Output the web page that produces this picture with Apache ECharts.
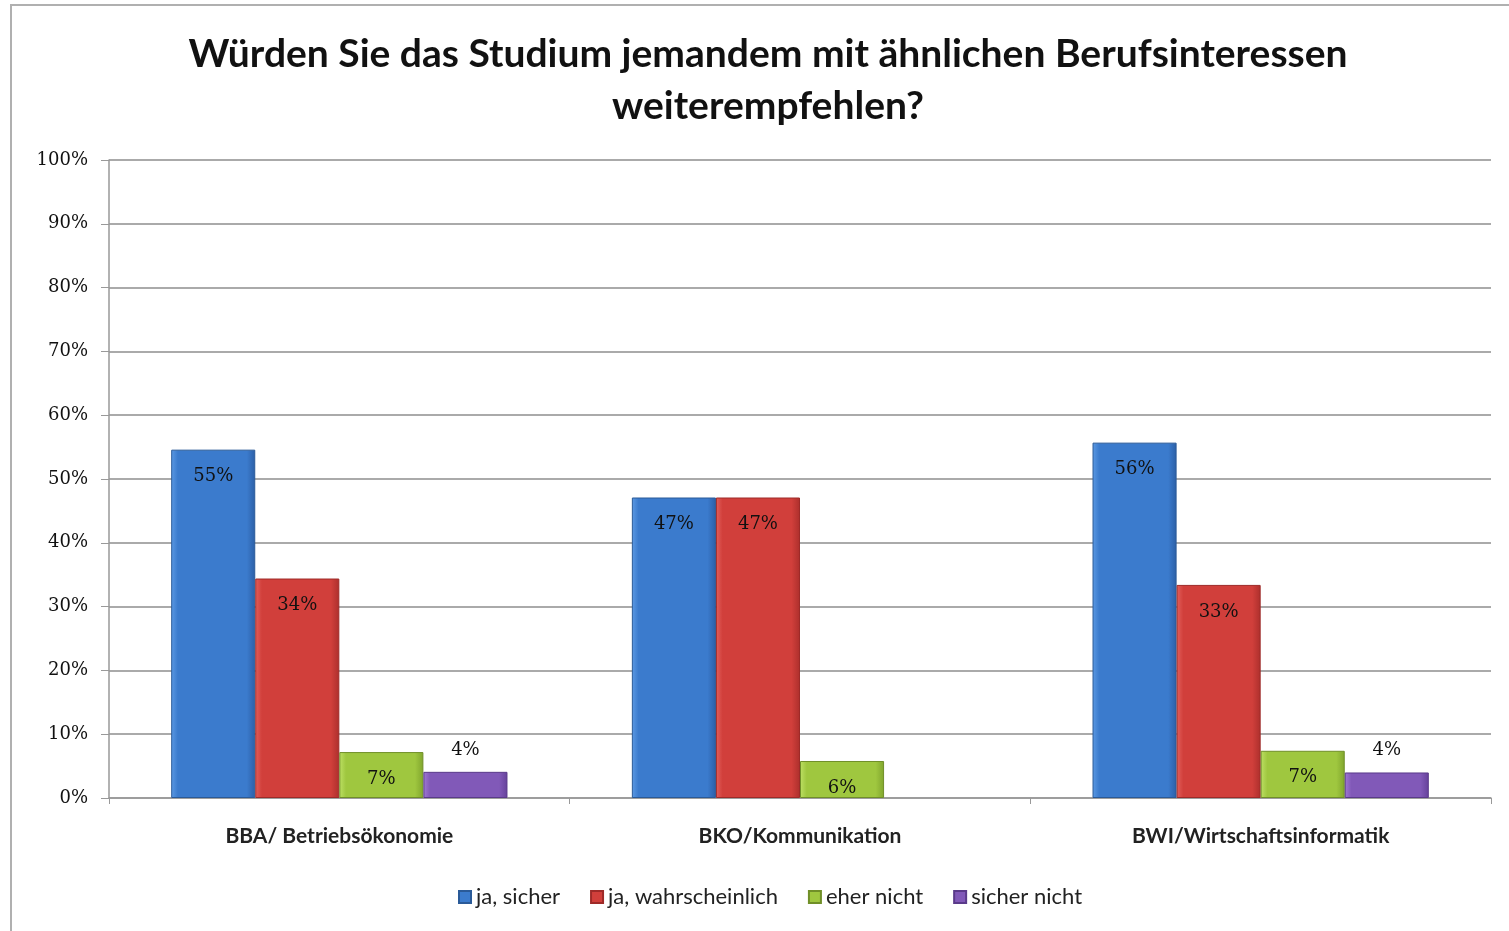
<!DOCTYPE html>
<html>
<head>
<meta charset="utf-8">
<script src="https://cdn.jsdelivr.net/npm/echarts@6/dist/echarts.min.js"></script>
<style>
  html, body { margin: 0; padding: 0; background: #fff; }
  #chart { width: 1509px; height: 931px; }
</style>
</head>
<body>
<div id="chart"></div>
<script>
// Studiengänge
const categories = ['BBA/ Betriebsökonomie', 'BKO/Kommunikation', 'BWI/Wirtschaftsinformatik'];
// Antworten (in %)
const jaSicher = [54.6, 47.1, 55.7];
const jaWahrscheinlich = [34.4, 47.1, 33.4];
const eherNicht = [7.2, 5.8, 7.4];
const sicherNicht = [4.1, null, 4.0];
const yTicks = [0, 10, 20, 30, 40, 50, 60, 70, 80, 90, 100];

const chart = echarts.init(document.getElementById('chart'));

// bevel-ish fill like the old Excel bars
const barFill = (light, mid, dark) => new echarts.graphic.LinearGradient(0, 0, 1, 0, [
    { offset: 0, color: light },
    { offset: 0.08, color: mid },
    { offset: 0.9, color: mid },
    { offset: 1, color: dark }
]);

const labelFont = {
    fontFamily: 'DejaVu Serif',
    fontSize: 18,
    color: '#111'
};

const makeSeries = (name, data, colors, labelPos) => ({
    name: name,
    type: 'bar',
    data: data,
    barGap: '0%',
    barCategoryGap: '27%',
    itemStyle: {
        color: barFill(colors[0], colors[1], colors[2]),
        borderColor: colors[3],
        borderWidth: 1
    },
    label: Object.assign({
        show: true,
        position: labelPos,
        distance: labelPos === 'top' ? 13 : 18,
        formatter: p => p.value == null ? '' : Math.round(p.value) + '%'
    }, labelFont)
});

const option = {
    backgroundColor: '#fff',
    animation: false,
    title: {
        text: 'Würden Sie das Studium jemandem mit ähnlichen Berufsinteressen\nweiterempfehlen?',
        left: 763,
        top: 23,
        textAlign: 'center',
        textStyle: {
            fontFamily: 'Lato',
            fontWeight: 'bold',
            fontSize: 39,
            lineHeight: 52,
            color: '#111'
        }
    },
    legend: {
        bottom: 18,
        left: 453,
        itemWidth: 12,
        itemHeight: 12,
        itemGap: 30,
        icon: 'rect',
        textStyle: {
            fontFamily: 'Lato',
            fontSize: 22,
            color: '#222'
        }
    },
    grid: {
        left: 109,
        right: 18,
        top: 160,
        bottom: 133
    },
    xAxis: {
        type: 'category',
        data: categories,
        axisLine: { lineStyle: { color: '#999', width: 1.5 } },
        axisTick: { show: true, length: 6, lineStyle: { color: '#999' } },
        axisLabel: {
            margin: 28,
            fontFamily: 'Lato',
            fontWeight: 'bold',
            fontSize: 21,
            color: '#222'
        }
    },
    yAxis: {
        type: 'value',
        min: yTicks[0],
        max: yTicks[yTicks.length - 1],
        interval: 10,
        axisLine: { show: true, lineStyle: { color: '#999', width: 1.5 } },
        axisTick: { show: true, length: 8, lineStyle: { color: '#999' } },
        axisLabel: {
            margin: 21,
            formatter: v => v + '%',
            fontFamily: 'DejaVu Serif',
            fontSize: 18,
            color: '#111'
        },
        splitLine: { lineStyle: { color: '#aaa', width: 2 } }
    },
    series: [
        makeSeries('ja, sicher', jaSicher, ['#5c9ae4', '#3b7bcd', '#2c5fa6', '#2a5a98'], 'insideTop'),
        makeSeries('ja, wahrscheinlich', jaWahrscheinlich, ['#e2605c', '#d13f3b', '#ac2f2c', '#9e2a28'], 'insideTop'),
        makeSeries('eher nicht', eherNicht, ['#bde064', '#9fc73f', '#80a52d', '#708f28'], 'insideTop'),
        makeSeries('sicher nicht', sicherNicht, ['#a07ad4', '#8159b8', '#65419a', '#5a3a8a'], 'top')
    ],
    graphic: [{
        type: 'rect',
        silent: true,
        shape: { x: 11, y: 5, width: 1520, height: 940 },
        style: { fill: 'none', stroke: '#b0b0b0', lineWidth: 2 }
    }]
};

chart.setOption(option);
window.addEventListener('resize', () => chart.resize());
</script>
</body>
</html>
